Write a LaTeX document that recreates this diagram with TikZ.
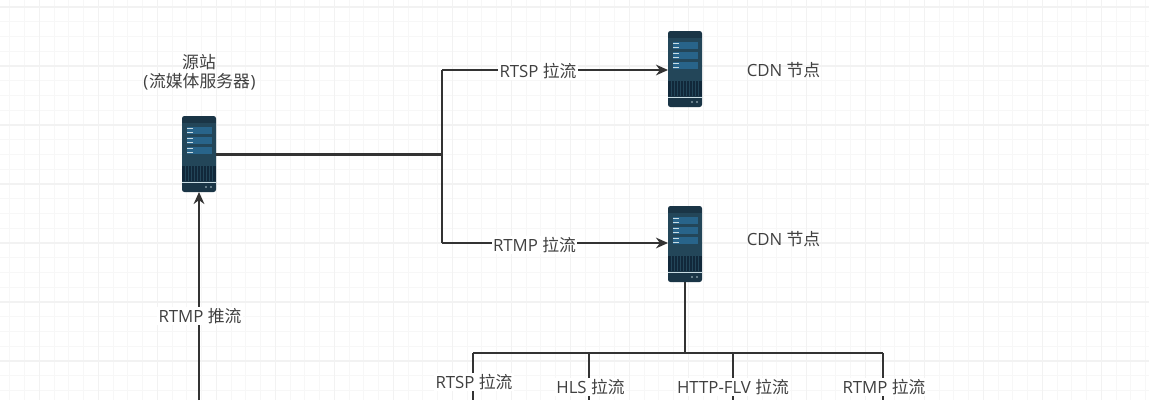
\documentclass[tikz,border=0pt]{standalone}
\usepackage{fontspec}
\setmainfont{Open Sans}
\newfontfamily\cjk{Noto Sans CJK SC}
\usetikzlibrary{arrows.meta}
\definecolor{srvdark}{HTML}{1A3546}
\definecolor{srvpanel}{HTML}{234659}
\definecolor{srvbar}{HTML}{28648A}
\definecolor{srvgrille}{HTML}{11283A}
\definecolor{srvlight}{HTML}{C9DCE3}
\definecolor{linecol}{HTML}{333333}
\definecolor{txtcol}{HTML}{404040}
\definecolor{gridminor}{HTML}{F7F7F7}
\definecolor{gridmajor}{HTML}{F2F2F2}
\newcommand{\zh}[1]{{\cjk #1}}
\tikzset{
  x=0.75pt,y=-0.75pt,
  server/.style={minimum width=25.5pt,minimum height=57pt,inner sep=0pt,outer sep=0pt,fill=srvdark,rounded corners=1.8pt},
  wire/.style={draw=linecol,line width=1.8pt},
  trunk/.style={draw=linecol,line width=2pt},
  arrowwire/.style={wire,-{Stealth[length=9pt,width=8pt]}},
  lab/.style={text=txtcol,font=\fontsize{12.6}{15}\selectfont,inner sep=1pt,align=center},
  lineLab/.style={lab,fill=white,inner sep=1pt},
}
\newcommand{\serverart}[1]{%
  \fill[srvpanel] ([shift={(0,7)}]#1.north west) rectangle ([shift={(34,50)}]#1.north west);
  \foreach \r in {11,21,31}{
    \fill[srvbar] ([shift={(5,\r)}]#1.north west) rectangle ([shift={(30,\r+7)}]#1.north west);
    \fill[srvlight] ([shift={(5,\r+0.6)}]#1.north west) rectangle ([shift={(11,\r+2)}]#1.north west);
    \fill[srvlight] ([shift={(5,\r+4.8)}]#1.north west) rectangle ([shift={(11,\r+6.2)}]#1.north west);
  }
  \fill[srvgrille] ([shift={(0.2,50)}]#1.north west) rectangle ([shift={(33.8,65)}]#1.north west);
  \foreach \g in {3,6,...,32}{
    \draw[srvpanel,line width=.3pt] ([shift={(\g,50)}]#1.north west) -- ([shift={(\g,65)}]#1.north west);
  }
  \fill[srvlight] ([shift={(0,65.5)}]#1.north west) rectangle ([shift={(34,67)}]#1.north west);
  \fill[srvlight!60!srvdark] ([shift={(24,71)}]#1.north west) circle (1.2);
  \fill[srvlight!60!srvdark] ([shift={(29,71)}]#1.north west) circle (1.2);
}
\begin{document}
\begin{tikzpicture}
\useasboundingbox (0,0) rectangle (1149,400);
\fill[white] (0,0) rectangle (1149,400);
\begin{scope}
\clip (0,0) rectangle (1149,400);
\foreach \k in {0,...,77}{
  \draw[gridminor,line width=.8pt] ({9.8+14.75*\k},0) -- ({9.8+14.75*\k},400);
}
\foreach \k in {0,...,27}{
  \draw[gridminor,line width=.8pt] (0,{7+14.75*\k}) -- (1149,{7+14.75*\k});
}
\foreach \k in {0,...,19}{
  \draw[gridmajor,line width=1pt] ({39.3+59*\k},0) -- ({39.3+59*\k},400);
}
\foreach \k in {0,...,6}{
  \draw[gridmajor,line width=1pt] (0,{7+59*\k}) -- (1149,{7+59*\k});
}
\end{scope}

% servers
\node[server] (src) at (199,154) {};
\node[server] (cdnA) at (685,69) {};
\node[server] (cdnB) at (685,244) {};
\serverart{src}
\serverart{cdnA}
\serverart{cdnB}

% free ends and junctions
\coordinate (pushEnd) at (199,400);
\coordinate (fork) at (442,154.5);
\coordinate (forkA) at (442,70);
\coordinate (forkB) at (442,243);
\coordinate (tapA) at (cdnA.west |- forkA);
\coordinate (tapB) at (cdnB.west |- forkB);
\coordinate (busMid) at (cdnB.south |- 0,353);
\coordinate (busL) at (473,353);
\coordinate (busR) at (883,353);
\coordinate (busH) at (589,353);
\coordinate (busF) at (733,353);
\coordinate (endL) at (473,400);
\coordinate (endR) at (883,400);
\coordinate (endH) at (589,400);
\coordinate (endF) at (733,400);

% connectors
\draw[trunk] (src.east |- fork) -- (fork);
\draw[wire] (forkA) -- (forkB);
\draw[arrowwire] (forkA) -- (tapA);
\draw[arrowwire] (forkB) -- (tapB);
\draw[arrowwire] (pushEnd) -- (src.south);
\draw[trunk] (cdnB.south) -- (busMid);
\draw[wire] (busL) -- (busR);
\draw[wire] (busL) -- (endL);
\draw[wire] (busH) -- (endH);
\draw[wire] (busF) -- (endF);
\draw[wire] (busR) -- (endR);

% labels
\node[lab] (t1) at (199,62) {\zh{源站}};
\node[lab] (t2) at (199.5,82) {(\kern.5pt\zh{流媒体服务器}\kern.5pt)};
\node[lab] (t3) at (783.5,70) {CDN \zh{节点}};
\node[lab] (t4) at (783.5,239) {CDN \zh{节点}};
\node[lineLab] (l1) at (538,71) {RTSP \zh{拉流}};
\node[lineLab] (l2) at (534.5,245) {RTMP \zh{拉流}};
\node[lineLab] (l3) at (200,316) {RTMP \zh{推流}};
\node[lineLab] (l4) at (474,382) {RTSP \zh{拉流}};
\node[lineLab] (l5) at (590.5,387) {HLS \zh{拉流}};
\node[lineLab] (l6) at (733,387) {HTTP-FLV \zh{拉流}};
\node[lineLab] (l7) at (884,387) {RTMP \zh{拉流}};
\end{tikzpicture}
\end{document}
